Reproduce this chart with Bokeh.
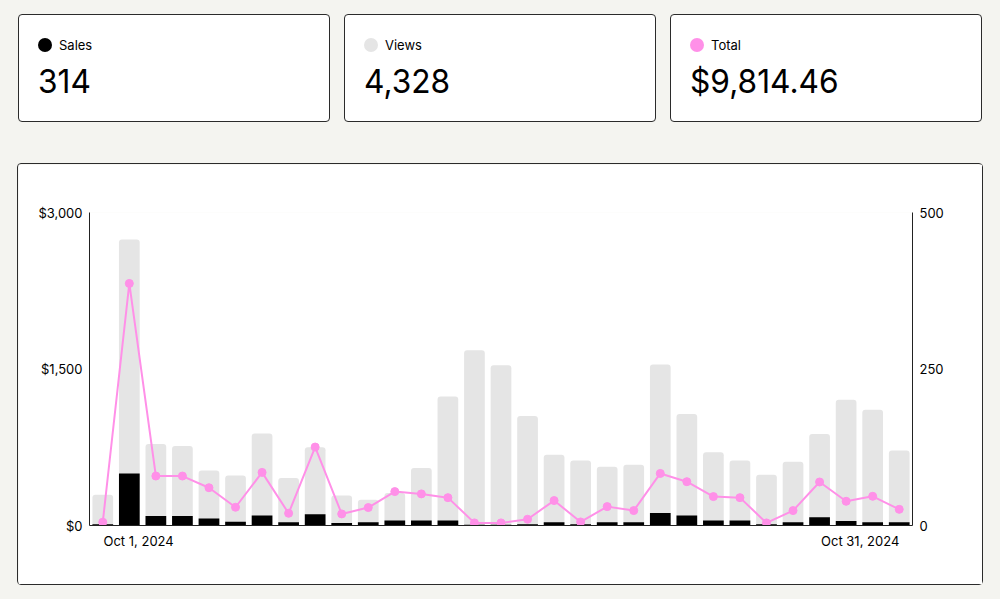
from bokeh.plotting import figure
from bokeh.models import (Range1d, LinearAxis, FixedTicker, NumeralTickFormatter,
                          Div, GlobalInlineStyleSheet, ColumnDataSource)
from bokeh.layouts import column, row
from bokeh.embed import file_html
from bokeh.resources import INLINE

# ---- data ----
days = list(range(31))
views = [49, 457, 130, 127, 88, 80, 147, 76, 125, 48, 41, 52, 92, 206, 280, 256,
         175, 113, 104, 94, 97, 257, 178, 117, 104, 81, 102, 146, 201, 185, 120]
sales = [2, 83, 15, 15, 11, 6, 16, 5, 18, 4, 5, 8, 8, 8, 1, 1, 2, 5, 2, 5, 5,
         20, 16, 8, 8, 2, 5, 13, 7, 5, 5]
total = [31.5, 2320.0, 474.0, 474.0, 362.0, 175.0, 509.0, 117.0, 752.0, 111.0,
         172.0, 325.0, 303.0, 267.0, 25.0, 25.0, 60.0, 239.0, 34.0, 181.0, 143.0,
         499.0, 420.0, 277.0, 267.0, 25.0, 143.0, 417.0, 232.0, 280.0, 155.0]
x_tick_labels = ["Oct 1, 2024", "Oct 31, 2024"]
left_ticks = [0, 1500, 3000]
right_ticks = [0, 250, 500]
card_names = ["Sales", "Views", "Total"]
card_values = ["314", "4,328", "$9,814.46"]
card_colors = ["#000000", "#e5e5e5", "#ff90e8"]

FONT = "Inter"
BG = "#f4f4f0"
PINK = "#ff90e8"

# ---- cards ----
cards = []
for name, val, col in zip(card_names, card_values, card_colors):
    html = (
        f'<div style="position:relative;width:310px;height:106px;font-family:{FONT},sans-serif;color:#000;">'
        f'<span style="position:absolute;left:19px;top:23px;width:14px;height:14px;border-radius:50%;background:{col};"></span>'
        f'<span style="position:absolute;left:40px;top:21px;font-size:13px;line-height:18px;white-space:nowrap;">{name}</span>'
        f'<span style="position:absolute;left:19px;top:46px;font-size:33px;line-height:40px;white-space:nowrap;'
        f'display:inline-block;transform:scaleX(0.96);transform-origin:left center;">{val}</span>'
        f'</div>'
    )
    d = Div(text=html, width=312, height=108, margin=0,
            styles={"background-color": "white", "border": "1px solid #2b2b2b",
                    "border-radius": "4px", "box-sizing": "border-box", "overflow": "hidden"})
    cards.append(d)

cards_row = row(*cards, spacing=14, margin=(14, 0, 0, 18))

# ---- chart ----
src = ColumnDataSource(dict(day=days, views=views, sales=sales, total=total))

p = figure(width=966, height=422, x_range=Range1d(-0.5, 30.5), y_range=Range1d(0, 3000),
           output_backend="svg", toolbar_location=None,
           min_border_left=71, min_border_right=72, min_border_top=48, min_border_bottom=61,
           background_fill_color="white", border_fill_color="white", outline_line_color=None,
           margin=(0, 0, 0, 17))
p.styles = {"border": "1px solid #2b2b2b", "border-radius": "4px"}
p.extra_y_ranges = {"count": Range1d(0, 500)}

p.xgrid.visible = False
p.ygrid.visible = False

# bottom axis: labels for first and last day, nudged so they sit left/right aligned
label_pos = [days[0] + 1.35, days[-1] - 1.47]
p.xaxis.ticker = FixedTicker(ticks=label_pos)
p.xaxis.major_label_overrides = {label_pos[0]: x_tick_labels[0], label_pos[1]: x_tick_labels[1]}
p.xaxis.major_tick_line_color = None
p.xaxis.minor_tick_line_color = None
p.xaxis.major_tick_out = 0
p.xaxis.major_tick_in = 0
p.xaxis.axis_line_color = "#222222"
p.xaxis.major_label_text_font = FONT
p.xaxis.major_label_text_font_size = "13px"
p.xaxis.major_label_text_color = "#000000"
p.xaxis.major_label_standoff = 7

p.yaxis.ticker = FixedTicker(ticks=left_ticks)
p.yaxis.formatter = NumeralTickFormatter(format="$0,0")

ax_r = LinearAxis(y_range_name="count", ticker=FixedTicker(ticks=right_ticks))
p.add_layout(ax_r, "right")

for ax in (p.yaxis[0], ax_r):
    ax.major_tick_line_color = None
    ax.minor_tick_line_color = None
    ax.major_tick_out = 0
    ax.major_tick_in = 0
    ax.axis_line_color = "#222222"
    ax.major_label_text_font = FONT
    ax.major_label_text_font_size = "13px"
    ax.major_label_text_color = "#000000"
    ax.major_label_standoff = 7

p.vbar(x="day", top="views", width=0.78, source=src, y_range_name="count",
       fill_color="#e5e5e5", line_color=None, border_radius=(3, 3, 0, 0))
p.vbar(x="day", top="sales", width=0.78, source=src, y_range_name="count",
       fill_color="#000000", line_color=None)
p.line(x="day", y="total", source=src, line_color=PINK, line_width=2)
p.scatter(x="day", y="total", source=src, size=8, fill_color=PINK, line_color=PINK)

layout = column(cards_row, p, spacing=41, margin=0,
                stylesheets=[GlobalInlineStyleSheet(css=f"html,body{{background-color:{BG};}}")])

open("out.html", "w").write(file_html(layout, INLINE, title="Sales dashboard"))
